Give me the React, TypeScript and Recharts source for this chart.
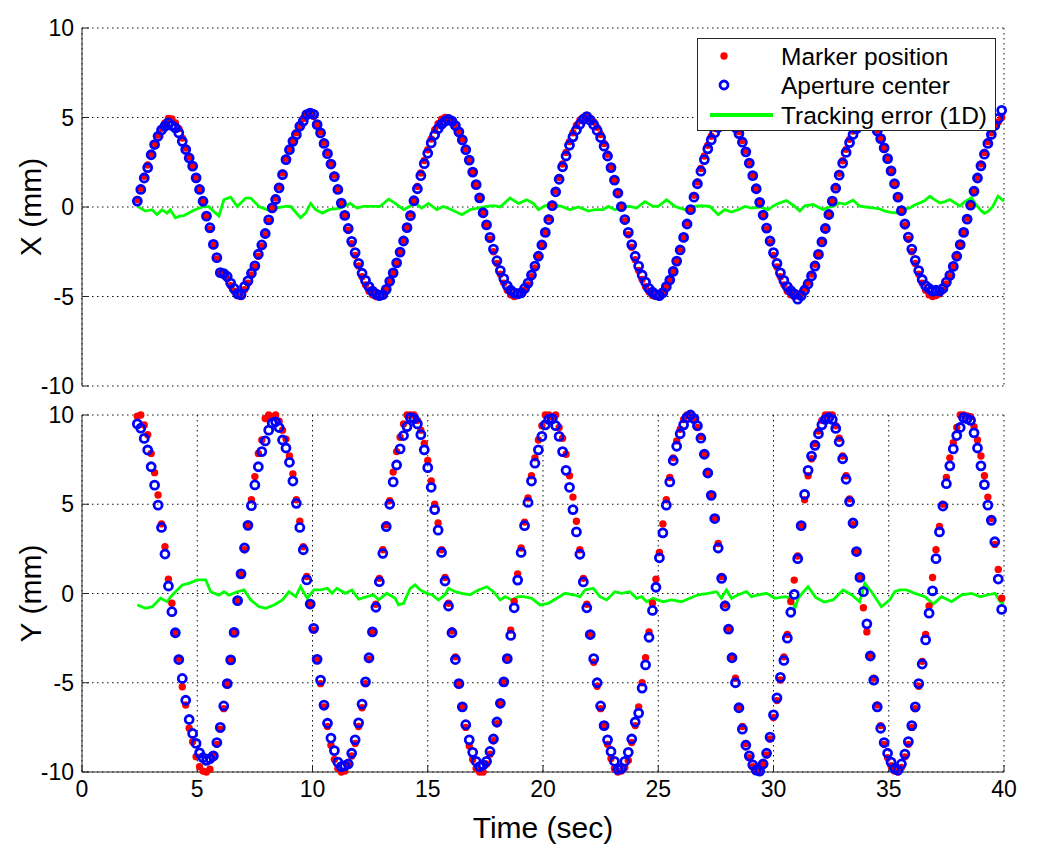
import React from 'react';
import { ComposedChart, Scatter, Line, XAxis, YAxis, CartesianGrid, Legend } from 'recharts';

// sample times (sec)
const time = [
  2.4, 2.55, 2.7, 2.85, 3, 3.15, 3.3, 3.45, 3.6, 3.75,
  3.9, 4.05, 4.2, 4.35, 4.5, 4.65, 4.8, 4.95, 5.1, 5.25,
  5.4, 5.55, 5.7, 5.85, 6, 6.15, 6.3, 6.45, 6.6, 6.75,
  6.9, 7.05, 7.2, 7.35, 7.5, 7.65, 7.8, 7.95, 8.1, 8.25,
  8.4, 8.55, 8.7, 8.85, 9, 9.15, 9.3, 9.45, 9.6, 9.75,
  9.9, 10.05, 10.2, 10.35, 10.5, 10.65, 10.8, 10.95, 11.1, 11.25,
  11.4, 11.55, 11.7, 11.85, 12, 12.15, 12.3, 12.45, 12.6, 12.75,
  12.9, 13.05, 13.2, 13.35, 13.5, 13.65, 13.8, 13.95, 14.1, 14.25,
  14.4, 14.55, 14.7, 14.85, 15, 15.15, 15.3, 15.45, 15.6, 15.75,
  15.9, 16.05, 16.2, 16.35, 16.5, 16.65, 16.8, 16.95, 17.1, 17.25,
  17.4, 17.55, 17.7, 17.85, 18, 18.15, 18.3, 18.45, 18.6, 18.75,
  18.9, 19.05, 19.2, 19.35, 19.5, 19.65, 19.8, 19.95, 20.1, 20.25,
  20.4, 20.55, 20.7, 20.85, 21, 21.15, 21.3, 21.45, 21.6, 21.75,
  21.9, 22.05, 22.2, 22.35, 22.5, 22.65, 22.8, 22.95, 23.1, 23.25,
  23.4, 23.55, 23.7, 23.85, 24, 24.15, 24.3, 24.45, 24.6, 24.75,
  24.9, 25.05, 25.2, 25.35, 25.5, 25.65, 25.8, 25.95, 26.1, 26.25,
  26.4, 26.55, 26.7, 26.85, 27, 27.15, 27.3, 27.45, 27.6, 27.75,
  27.9, 28.05, 28.2, 28.35, 28.5, 28.65, 28.8, 28.95, 29.1, 29.25,
  29.4, 29.55, 29.7, 29.85, 30, 30.15, 30.3, 30.45, 30.6, 30.75,
  30.9, 31.05, 31.2, 31.35, 31.5, 31.65, 31.8, 31.95, 32.1, 32.25,
  32.4, 32.55, 32.7, 32.85, 33, 33.15, 33.3, 33.45, 33.6, 33.75,
  33.9, 34.05, 34.2, 34.35, 34.5, 34.65, 34.8, 34.95, 35.1, 35.25,
  35.4, 35.55, 35.7, 35.85, 36, 36.15, 36.3, 36.45, 36.6, 36.75,
  36.9, 37.05, 37.2, 37.35, 37.5, 37.65, 37.8, 37.95, 38.1, 38.25,
  38.4, 38.55, 38.7, 38.85, 39, 39.15, 39.3, 39.45, 39.6, 39.75,
  39.9,
];

// X (mm): marker position
const markerX = [
  0.42, 1.05, 1.72, 2.35, 2.98, 3.52, 4.02, 4.40, 4.70, 4.95,
  4.92, 4.70, 4.38, 3.85, 3.30, 2.80, 2.25, 1.66, 0.95, 0.30,
  -0.55, -1.25, -2.15, -2.90, -3.72, -3.80, -4.00, -4.40, -4.70, -4.95,
  -5.00, -4.62, -4.25, -3.80, -3.35, -2.75, -2.20, -1.55, -0.80, -0.10,
  0.50, 1.15, 1.90, 2.72, 3.25, 3.72, 4.15, 4.55, 4.95, 5.15,
  5.20, 5.05, 4.62, 4.20, 3.62, 3.05, 2.45, 1.78, 1.02, 0.25,
  -0.52, -1.30, -2.05, -2.70, -3.30, -3.90, -4.35, -4.70, -4.90, -5.00,
  -4.95, -4.85, -4.55, -4.20, -3.70, -3.15, -2.55, -1.85, -1.10, -0.40,
  0.38, 1.15, 1.90, 2.60, 3.20, 3.80, 4.30, 4.65, 4.90, 5.00,
  4.98, 4.85, 4.60, 4.25, 3.80, 3.25, 2.65, 1.95, 1.25, 0.50,
  -0.28, -1.05, -1.80, -2.50, -3.15, -3.75, -4.25, -4.65, -4.90, -5.00,
  -4.95, -4.85, -4.65, -4.35, -3.90, -3.40, -2.80, -2.10, -1.40, -0.62,
  0.15, 0.92, 1.65, 2.40, 3.05, 3.65, 4.15, 4.55, 4.85, 5.00,
  5.05, 4.95, 4.75, 4.45, 4.05, 3.55, 2.95, 2.25, 1.50, 0.75,
  -0.02, -0.78, -1.55, -2.25, -2.95, -3.55, -4.05, -4.45, -4.75, -4.95,
  -5.00, -4.90, -4.70, -4.40, -4.05, -3.55, -3.00, -2.35, -1.65, -0.90,
  -0.12, 0.65, 1.40, 2.15, 2.85, 3.45, 3.95, 4.40, 4.70, 4.90,
  5.00, 4.95, 4.80, 4.55, 4.20, 3.72, 3.15, 2.50, 1.80, 1.05,
  0.28, -0.48, -1.25, -2.00, -2.70, -3.35, -3.90, -4.35, -4.70, -4.90,
  -5.00, -4.95, -4.80, -4.55, -4.20, -3.75, -3.20, -2.60, -1.90, -1.15,
  -0.40, 0.36, 1.12, 1.88, 2.58, 3.22, 3.78, 4.25, 4.60, 4.85,
  5.00, 5.00, 4.90, 4.65, 4.30, 3.85, 3.30, 2.70, 2.00, 1.25,
  0.50, -0.25, -1.05, -1.80, -2.50, -3.15, -3.75, -4.25, -4.65, -4.90,
  -5.00, -4.95, -4.85, -4.65, -4.30, -3.90, -3.38, -2.80, -2.10, -1.38,
  -0.62, 0.15, 0.92, 1.68, 2.40, 3.05, 3.65, 4.15, 4.50, 4.75,
  5.00,
];

// X (mm): aperture center
const apertureX = [
  0.33, 0.98, 1.62, 2.20, 2.92, 3.49, 3.95, 4.30, 4.52, 4.70,
  4.55, 4.42, 4.14, 3.67, 3.21, 2.74, 2.28, 1.63, 0.98, 0.32,
  -0.51, -1.16, -2.09, -2.83, -3.67, -3.72, -3.88, -4.25, -4.55, -4.85,
  -4.90, -4.45, -4.13, -3.70, -3.29, -2.64, -2.12, -1.48, -0.72, -0.05,
  0.42, 1.07, 1.81, 2.65, 3.20, 3.67, 4.04, 4.51, 4.80, 5.16,
  5.25, 5.18, 4.60, 4.14, 3.55, 2.98, 2.40, 1.70, 0.98, 0.22,
  -0.47, -1.20, -1.92, -2.55, -3.15, -3.70, -4.10, -4.45, -4.70, -4.85,
  -4.95, -4.90, -4.60, -4.15, -3.68, -3.12, -2.52, -1.90, -1.15, -0.48,
  0.35, 1.02, 1.75, 2.42, 3.00, 3.58, 4.02, 4.38, 4.62, 4.80,
  4.90, 4.80, 4.55, 4.20, 3.75, 3.20, 2.62, 1.95, 1.25, 0.51,
  -0.32, -1.00, -1.70, -2.35, -3.00, -3.55, -4.00, -4.40, -4.65, -4.80,
  -4.85, -4.80, -4.55, -4.25, -3.80, -3.30, -2.75, -2.12, -1.42, -0.70,
  0.08, 0.85, 1.55, 2.25, 2.85, 3.45, 3.92, 4.30, 4.62, 4.90,
  5.05, 4.85, 4.60, 4.28, 3.88, 3.40, 2.85, 2.20, 1.50, 0.78,
  0.02, -0.70, -1.42, -2.10, -2.75, -3.30, -3.80, -4.20, -4.55, -4.75,
  -4.90, -4.95, -4.78, -4.45, -4.08, -3.60, -3.02, -2.40, -1.70, -0.95,
  -0.15, 0.55, 1.30, 2.00, 2.65, 3.25, 3.75, 4.15, 4.45, 4.65,
  4.75, 4.80, 4.70, 4.45, 4.10, 3.62, 3.08, 2.45, 1.75, 1.02,
  0.26, -0.45, -1.18, -1.90, -2.55, -3.15, -3.68, -4.10, -4.45, -4.68,
  -4.85, -5.15, -4.95, -4.65, -4.30, -3.85, -3.30, -2.65, -1.95, -1.20,
  -0.42, 0.33, 1.05, 1.78, 2.45, 3.05, 3.60, 4.05, 4.38, 4.62,
  4.75, 4.80, 4.75, 4.55, 4.25, 3.82, 3.30, 2.70, 2.02, 1.30,
  0.55, -0.20, -0.95, -1.68, -2.35, -2.98, -3.55, -4.05, -4.40, -4.55,
  -4.70, -4.65, -4.70, -4.55, -4.20, -3.82, -3.32, -2.75, -2.10, -1.42,
  -0.68, 0.10, 0.88, 1.62, 2.30, 2.95, 3.55, 4.05, 4.55, 4.95,
  5.40,
];

// Y (mm): marker position
const markerY = [
  9.93, 10.00, 9.44, 8.90, 7.85, 6.77, 5.52, 3.90, 2.62, 0.80,
  -0.55, -2.23, -3.63, -5.22, -6.25, -7.55, -8.30, -9.14, -9.70, -9.95,
  -10.00, -9.85, -9.05, -8.45, -7.60, -6.45, -5.10, -3.75, -2.20, -0.45,
  1.05, 2.45, 3.85, 5.25, 6.55, 7.85, 8.60, 9.80, 10.00, 9.90,
  10.00, 9.65, 9.15, 8.65, 7.70, 6.70, 5.25, 4.05, 2.62, 0.95,
  -0.62, -2.05, -3.75, -5.05, -6.35, -7.45, -8.50, -9.30, -9.80, -10.00,
  -9.95, -9.60, -9.10, -8.40, -7.45, -6.40, -5.05, -3.70, -2.20, -0.60,
  0.85, 2.45, 3.85, 5.20, 6.80, 7.95, 8.75, 9.50, 10.00, 10.00,
  10.00, 9.70, 9.15, 8.40, 7.45, 6.30, 5.00, 3.95, 2.45, 0.90,
  -0.55, -2.10, -3.55, -5.05, -6.30, -7.50, -8.55, -9.30, -9.80, -10.00,
  -10.00, -9.55, -9.00, -8.25, -7.30, -6.15, -4.95, -3.60, -2.05, -0.45,
  1.10, 2.55, 4.00, 5.35, 6.60, 7.60, 8.60, 9.40, 10.00, 10.00,
  9.90, 10.00, 9.30, 8.70, 7.80, 6.60, 5.40, 4.05, 2.45, 0.85,
  -0.60, -2.30, -3.85, -5.20, -6.45, -7.45, -8.45, -9.25, -9.80, -10.00,
  -9.95, -9.75, -9.35, -8.35, -7.40, -6.35, -5.00, -3.60, -2.15, -0.55,
  0.80, 2.30, 3.90, 5.25, 6.50, 7.60, 8.55, 9.20, 9.75, 10.00,
  10.00, 9.80, 9.30, 8.80, 7.80, 6.75, 5.55, 4.25, 2.80, 0.95,
  -0.60, -1.95, -3.55, -4.75, -6.35, -7.45, -8.40, -9.20, -9.70, -9.95,
  -9.90, -9.55, -9.05, -8.15, -6.95, -6.00, -4.85, -3.55, -2.30, -0.45,
  0.75, 2.10, 3.85, 5.25, 6.60, 7.55, 8.40, 9.10, 9.70, 10.00,
  10.00, 10.00, 9.40, 8.70, 7.70, 6.60, 5.30, 3.85, 2.30, 0.85,
  -0.80, -2.15, -3.50, -4.75, -6.25, -7.40, -8.45, -9.20, -9.65, -9.95,
  -10.00, -9.75, -9.15, -8.45, -7.50, -6.45, -5.20, -3.80, -2.30, -0.70,
  0.90, 2.45, 3.75, 5.00, 6.50, 7.60, 8.45, 9.30, 10.00, 10.00,
  9.95, 9.90, 9.35, 8.60, 7.70, 6.60, 5.40, 4.20, 2.75, 1.35,
  -0.27,
];

// Y (mm): aperture center
const apertureY = [
  9.50, 9.26, 8.69, 8.04, 7.10, 6.07, 4.95, 3.70, 2.21, 0.42,
  -1.02, -2.20, -3.70, -4.76, -5.98, -7.06, -7.84, -8.40, -8.93, -9.20,
  -9.35, -9.25, -9.10, -8.35, -7.50, -6.30, -5.05, -3.72, -2.18, -0.40,
  1.10, 2.55, 3.82, 4.92, 6.08, 7.10, 7.95, 8.55, 9.15, 9.55,
  9.62, 9.30, 8.60, 8.15, 7.35, 6.30, 5.05, 3.70, 2.45, 0.76,
  -0.59, -1.95, -3.69, -4.85, -6.25, -7.27, -8.10, -8.80, -9.45, -9.70,
  -9.65, -9.55, -8.95, -8.20, -7.25, -6.20, -4.95, -3.60, -2.15, -0.77,
  0.66, 2.25, 3.75, 5.00, 6.25, 7.20, 8.10, 8.85, 9.35, 9.85,
  9.80, 9.50, 8.90, 8.05, 7.05, 5.95, 4.70, 3.55, 2.30, 0.70,
  -0.70, -2.20, -3.70, -5.05, -6.35, -7.35, -8.20, -8.90, -9.40, -9.70,
  -9.60, -9.40, -8.85, -8.15, -7.20, -6.15, -4.95, -3.65, -2.35, -0.80,
  0.75, 2.30, 3.80, 5.10, 6.30, 7.30, 8.05, 8.80, 9.45, 9.75,
  9.80, 9.40, 8.80, 7.95, 6.90, 5.95, 4.70, 3.45, 2.20, 0.65,
  -0.80, -2.30, -3.65, -5.00, -6.30, -7.40, -8.20, -8.85, -9.40, -9.85,
  -9.80, -9.40, -8.90, -8.15, -7.20, -6.70, -5.30, -4.00, -2.45, -0.95,
  0.35, 2.00, 3.40, 4.95, 6.25, 7.45, 8.25, 8.95, 9.45, 9.85,
  10.00, 9.80, 9.40, 8.70, 7.80, 6.75, 5.50, 4.20, 2.55, 0.85,
  -0.70, -2.00, -3.60, -5.00, -6.40, -7.60, -8.50, -9.10, -9.60, -9.90,
  -9.95, -9.55, -8.95, -8.05, -6.80, -5.85, -4.70, -3.75, -2.50, -1.05,
  -0.05, 1.95, 3.80, 5.55, 6.90, 7.70, 8.30, 8.95, 9.45, 9.75,
  9.85, 9.75, 9.25, 8.50, 7.55, 6.40, 5.15, 3.95, 2.35, 0.90,
  0.10, -1.70, -3.50, -4.85, -6.35, -7.55, -8.35, -8.95, -9.45, -9.80,
  -9.90, -9.55, -9.00, -8.30, -7.40, -6.35, -5.05, -3.95, -2.60, -1.10,
  0.15, 1.95, 3.45, 4.90, 6.15, 7.15, 8.10, 8.85, 9.30, 9.85,
  9.80, 9.70, 9.00, 8.15, 7.15, 6.10, 4.95, 4.10, 2.90, 0.81,
  -0.89,
];

// Tracking error (1D), X panel
const errXTime = [
  2.39, 2.75, 3.04, 3.26, 3.47, 3.69, 3.83, 4.05, 4.26, 4.4, 4.63, 4.9, 5.2, 5.49, 5.7, 5.94,
  6.16, 6.45, 6.74, 7.1, 7.32, 7.68, 8.04, 8.4, 8.83, 9.05, 9.48, 9.7, 9.92, 10.14, 10.43, 10.72,
  11.2, 11.63, 11.93, 12.21, 12.5, 12.93, 13.3, 13.59, 13.95, 14.45, 14.74, 15.03, 15.39, 15.68,
  16.04, 16.48, 16.84, 17.2, 17.56, 17.85, 18.14, 18.57, 18.93, 19.29, 19.58, 19.8, 20.09, 20.45,
  20.81, 21.17, 21.53, 21.97, 22.25, 22.61, 22.83, 23.12, 23.41, 23.77, 24.06, 24.42, 24.78, 25.0,
  25.36, 25.73, 26.16, 26.52, 26.88, 27.24, 27.6, 27.89, 28.18, 28.47, 28.76, 29.05, 29.41, 29.77,
  29.98, 30.2, 30.56, 30.92, 31.14, 31.36, 31.72, 32.15, 32.3, 32.6, 32.87, 33.1, 33.45, 33.74,
  34.0, 34.32, 34.6, 34.83, 35.1, 35.34, 35.6, 35.92, 36.1, 36.35, 36.55, 36.78, 37.0, 37.22,
  37.45, 37.65, 37.85, 38.09, 38.3, 38.59, 38.8, 39.03, 39.15, 39.32, 39.5, 39.74, 40.0,
];
const errXValue = [
  0.05, -0.23, -0.15, -0.42, -0.15, -0.34, -0.15, -0.6, -0.5, -0.5, -0.34, -0.15, -0.01, 0.03, -0.23, -0.5,
  0.42, 0.55, 0.03, 0.5, 0.5, 0.03, -0.15, -0.06, 0.03, 0.03, -0.6, -0.34, 0.2, -0.15, -0.34, -0.15,
  -0.06, 0.2, -0.06, 0.03, 0.03, 0.03, 0.44, 0.2, -0.15, 0.2, -0.06, 0.2, -0.15, 0.03,
  -0.15, -0.43, -0.15, -0.06, 0.03, 0.07, 0.0, 0.5, 0.2, 0.4, 0.2, -0.15, 0.07, 0.1,
  0.03, -0.15, 0.0, -0.23, -0.15, -0.15, 0.03, -0.15, 0.0, 0.03, -0.06, 0.3, 0.03, 0.03,
  0.4, 0.03, -0.15, 0.03, 0.07, 0.03, -0.43, -0.15, -0.28, -0.15, 0.03, -0.06, 0.0, -0.15,
  0.05, 0.2, 0.36, 0.03, -0.23, 0.07, 0.14, -0.15, -0.05, 0.05, 0.23, 0.15, 0.38, 0.05,
  0.0, -0.05, -0.1, -0.23, -0.3, -0.32, -0.15, -0.05, 0.1, 0.23, 0.35, 0.6, 0.4, 0.23,
  0.3, 0.42, 0.25, 0.05, 0.3, 0.52, 0.1, -0.23, -0.35, -0.23, 0.0, 0.6, 0.32,
];

// Tracking error (1D), Y panel
const errYTime = [
  2.4, 2.76, 3.05, 3.41, 3.7, 3.85, 4.06, 4.35, 4.64, 5.0, 5.37, 5.58, 5.94, 6.16, 6.38, 6.74,
  7.03, 7.32, 7.68, 7.97, 8.33, 8.7, 8.98, 9.27, 9.48, 9.77, 10.06, 10.35, 10.64, 10.85, 11.06, 11.42,
  11.71, 12.0, 12.29, 12.65, 12.87, 13.22, 13.59, 13.73, 13.95, 14.24, 14.45, 14.67, 14.96, 15.18,
  15.46, 15.75, 15.9, 16.19, 16.48, 16.84, 17.2, 17.56, 17.85, 18.14, 18.36, 18.65, 18.93, 19.15,
  19.51, 19.87, 20.23, 20.6, 20.96, 21.32, 21.61, 21.82, 22.18, 22.47, 22.76, 23.12, 23.41, 23.77,
  24.06, 24.28, 24.5, 24.78, 25.22, 25.58, 26.01, 26.37, 26.73, 27.17, 27.53, 27.74, 27.96, 28.18,
  28.47, 28.83, 29.05, 29.34, 29.7, 30.06, 30.5, 30.78, 30.93, 31.07, 31.3, 31.5, 31.83, 32.19,
  32.58, 33.02, 33.38, 33.74, 33.96, 34.25, 34.68, 35.04, 35.26, 35.48, 35.77, 36.13, 36.57, 36.93,
  37.29, 37.73, 38.16, 38.6, 38.96, 39.32, 39.61, 39.83, 40.0,
];
const errYValue = [
  -0.64, -0.83, -0.74, -0.27, -0.46, -0.18, 0.1, 0.48, 0.57, 0.76, 0.76, 0.1, -0.09, 0.1, -0.09, 0.1,
  0.2, -0.36, -0.74, -0.83, -0.64, -0.36, 0.1, -0.18, 0.38, -0.27, 0.2, 0.2, 0.29, 0.01, 0.29, 0.01,
  0.2, -0.32, -0.2, -0.07, -0.36, 0.01, -0.27, -0.64, -0.55, 0.29, 0.48, 0.2, 0.01, -0.07,
  -0.36, -0.07, 0.29, 0.1, 0.01, -0.07, 0.2, 0.38, 0.1, -0.36, -0.18, -0.36, -0.18, -0.18,
  -0.27, -0.64, -0.55, -0.27, 0.01, -0.07, -0.18, 0.2, 0.29, -0.18, -0.36, 0.1, 0.01, 0.1,
  -0.27, -0.18, -0.46, -0.27, -0.46, -0.36, -0.46, -0.27, -0.07, 0.01, 0.1, -0.27, 0.2, -0.27,
  -0.07, 0.1, -0.18, -0.07, 0.01, -0.27, -0.18, -0.27, -0.83, -0.27, 0.1, 0.38, -0.22, -0.48,
  -0.36, 0.2, -0.07, -0.46, 0.57, 0.1, -0.74, -0.36, 0.1, 0.2, 0.2, 0.01, -0.18, -0.59,
  -0.18, -0.46, -0.07, 0.01, -0.18, -0.07, 0.01, -0.46, -0.59,
];

const xTicks = [0, 5, 10, 15, 20, 25, 30, 35, 40];
const yTicks = [-10, -5, 0, 5, 10];

const FONT = '"Liberation Sans", Arial, Helvetica, sans-serif';
const FRAME = '#262626';

const pairs = (ts: number[], vs: number[]) =>
  ts.map((t, i) => ({ t, v: vs[i] })).filter((d) => typeof d.v === 'number');

const topMarker = pairs(time, markerX);
const topAperture = pairs(time, apertureX);
const topError = pairs(errXTime, errXValue);
const botMarker = pairs(time, markerY);
const botAperture = pairs(time, apertureY);
const botError = pairs(errYTime, errYValue);

const RedDot = (p: any) => <circle cx={p.cx} cy={p.cy} r={3.7} fill="#ff0000" />;
const BlueRing = (p: any) => (
  <circle cx={p.cx} cy={p.cy} r={4.0} fill="none" stroke="#0000ff" strokeWidth={2.8} />
);

const tickStyle = { fill: '#000', fontSize: 23, fontFamily: FONT };

function LegendBox() {
  const tx = 84;
  const fs = 24.5;
  return (
    <svg width={300} height={94} style={{ display: 'block' }}>
      <rect x={0.5} y={0.5} width={298} height={92} fill="#fff" stroke={FRAME} strokeWidth={1} />
      <circle cx={27} cy={18} r={3.7} fill="#ff0000" />
      <circle cx={27} cy={47} r={4.0} fill="none" stroke="#0000ff" strokeWidth={2.8} />
      <line x1={13} y1={77} x2={76} y2={77} stroke="#00ff00" strokeWidth={4} />
      <text x={tx} y={18} dominantBaseline="central" fontSize={fs} fontFamily={FONT} fill="#000">Marker position</text>
      <text x={tx} y={47} dominantBaseline="central" fontSize={fs} fontFamily={FONT} fill="#000">Aperture center</text>
      <text x={tx} y={77} dominantBaseline="central" fontSize={fs} fontFamily={FONT} fill="#000">Tracking error (1D)</text>
    </svg>
  );
}

function Panel(props: {
  height: number;
  margin: { top: number; right: number; bottom: number; left: number };
  marker: any[];
  aperture: any[];
  error: any[];
  yLabel: string;
  showX: boolean;
  legend?: boolean;
}) {
  const { height, margin, marker, aperture, error, yLabel, showX, legend } = props;
  return (
    <ComposedChart width={1042} height={height} margin={margin}>
      <CartesianGrid stroke="#111" strokeDasharray="1.5 3.5" strokeWidth={1} />
      <XAxis
        xAxisId={0}
        dataKey="t"
        type="number"
        domain={[0, 40]}
        ticks={xTicks}
        interval={0}
        height={showX ? 70 : 0}
        tickSize={-7}
        tickMargin={showX ? 16 : 0}
        tick={showX ? tickStyle : false}
        tickLine={{ stroke: FRAME }}
        axisLine={{ stroke: FRAME }}
        label={
          showX
            ? { value: 'Time (sec)', position: 'insideBottom', offset: 4, style: { fontSize: 30, fontFamily: FONT, fill: '#000' } }
            : undefined
        }
      />
      <XAxis
        xAxisId="top"
        orientation="top"
        dataKey="t"
        type="number"
        domain={[0, 40]}
        ticks={xTicks}
        interval={0}
        height={0}
        tickSize={-7}
        tick={false}
        tickLine={{ stroke: FRAME }}
        axisLine={{ stroke: FRAME }}
      />
      <YAxis
        yAxisId={0}
        dataKey="v"
        type="number"
        domain={[-10, 10]}
        ticks={yTicks}
        interval={0}
        width={74}
        tickSize={-7}
        tickMargin={15}
        tick={tickStyle}
        tickLine={{ stroke: FRAME }}
        axisLine={{ stroke: FRAME }}
        label={{ value: yLabel, angle: -90, position: 'insideLeft', offset: 22, style: { textAnchor: 'middle', fontSize: 30, fontFamily: FONT, fill: '#000' } }}
      />
      <YAxis
        yAxisId="right"
        orientation="right"
        type="number"
        domain={[-10, 10]}
        ticks={yTicks}
        interval={0}
        width={0}
        tickSize={-7}
        tick={false}
        tickLine={{ stroke: FRAME }}
        axisLine={{ stroke: FRAME }}
      />
      <Scatter data={marker} dataKey="v" shape={RedDot} isAnimationActive={false} />
      <Scatter data={aperture} dataKey="v" shape={BlueRing} isAnimationActive={false} />
      <Line
        data={error}
        dataKey="v"
        type="linear"
        stroke="#00ff00"
        strokeWidth={2.8}
        dot={false}
        activeDot={false}
        isAnimationActive={false}
      />
      {legend ? (
        <Legend
          layout="vertical"
          align="center"
          verticalAlign="middle"
          content={() => <LegendBox />}
          wrapperStyle={{ position: 'absolute', left: 689, top: 30, width: 300, height: 94 }}
        />
      ) : null}
    </ComposedChart>
  );
}

export default function App() {
  return (
    <div style={{ position: 'relative', width: 1042, height: 855, background: '#fff' }}>
      <div style={{ position: 'absolute', left: 0, top: 0 }}>
        <Panel
          height={392}
          margin={{ top: 20, right: 46, bottom: 14, left: 0 }}
          marker={topMarker}
          aperture={topAperture}
          error={topError}
          yLabel="X (mm)"
          showX={false}
          legend
        />
      </div>
      <div style={{ position: 'absolute', left: 0, top: 392 }}>
        <Panel
          height={458}
          margin={{ top: 15, right: 46, bottom: 16, left: 0 }}
          marker={botMarker}
          aperture={botAperture}
          error={botError}
          yLabel="Y (mm)"
          showX
        />
      </div>
    </div>
  );
}
